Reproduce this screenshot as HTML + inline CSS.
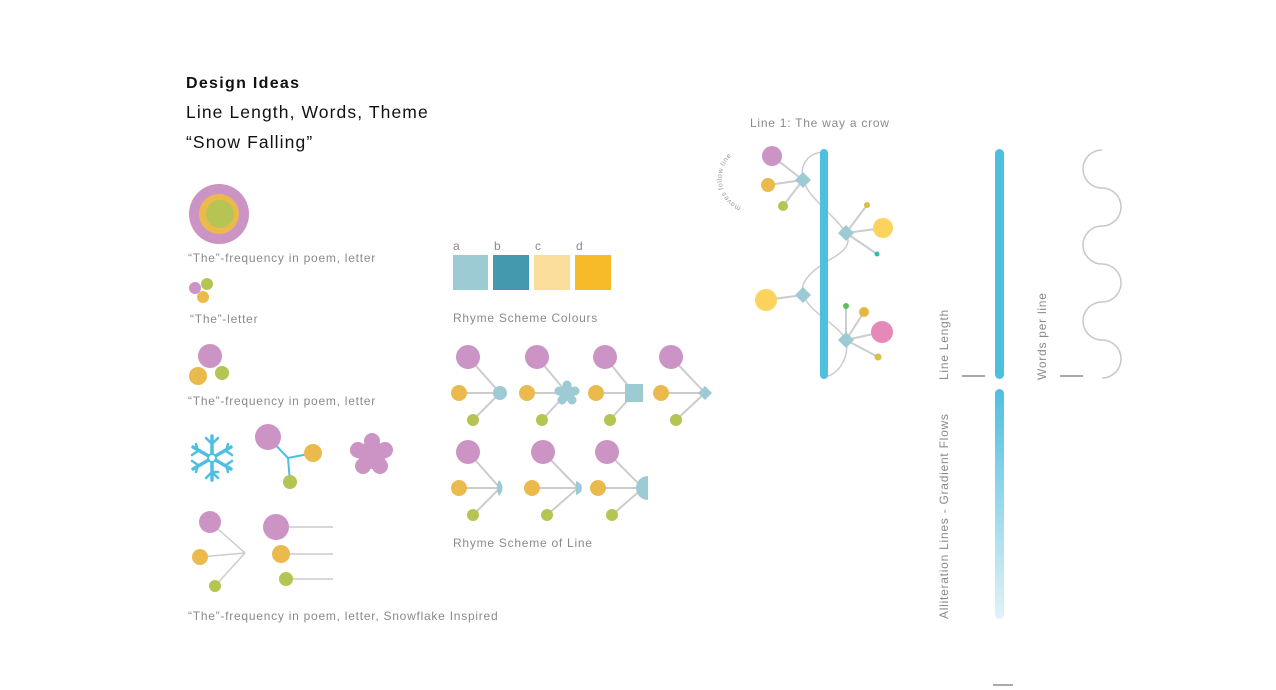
<!DOCTYPE html>
<html><head><meta charset="utf-8"><style>
html,body{margin:0;padding:0;background:#fff;}
svg{display:block;font-family:"Liberation Sans",sans-serif;}
.cap{font-size:12px;fill:#8a8a8a;letter-spacing:0.75px;}
</style></head><body>
<svg width="1276" height="690" viewBox="0 0 1276 690" xmlns="http://www.w3.org/2000/svg">
<defs>
<linearGradient id="g" x1="0" y1="0" x2="0" y2="1"><stop offset="0" stop-color="#4fbfdf"/><stop offset="1" stop-color="#e2f1f8"/></linearGradient>
</defs>
<text x="186" y="88" font-size="16" font-weight="bold" fill="#111" letter-spacing="1.3">Design Ideas</text>
<text x="186" y="118" font-size="17.5" fill="#111" letter-spacing="1.1">Line Length, Words, Theme</text>
<text x="186" y="148" font-size="17.5" fill="#111" letter-spacing="1.1">“Snow Falling”</text>

<circle cx="219" cy="214" r="30" fill="#cc94c4"/><circle cx="219" cy="214" r="20" fill="#eabb4c"/><circle cx="220" cy="214" r="14" fill="#b5c452"/>
<text class="cap" x="188" y="262">“The”-frequency in poem, letter</text>
<circle cx="207" cy="284" r="6" fill="#b5c452"/><circle cx="203" cy="297" r="6" fill="#eabb4c"/><circle cx="195" cy="288" r="6" fill="#cc94c4"/>
<text class="cap" x="190" y="323">“The”-letter</text>
<circle cx="210" cy="356" r="12" fill="#cc94c4"/><circle cx="198" cy="376" r="9" fill="#eabb4c"/><circle cx="222" cy="373" r="7" fill="#b5c452"/>
<text class="cap" x="188" y="405">“The”-frequency in poem, letter</text>

<g stroke="#4fbfdf" stroke-width="3.5" stroke-linecap="round" fill="none">
<line x1="212" y1="436" x2="212" y2="480"/><line x1="193" y1="447" x2="231" y2="469"/><line x1="193" y1="469" x2="231" y2="447"/>
<g stroke-width="2.5">
<path d="M206 438L212 444L218 438M206 478L212 472L218 472M206 478L212 472L218 478"/>
<path d="M192 455L198 451L196 444M232 455L226 451L228 444M192 461L198 465L196 472M232 461L226 465L228 472"/>
</g>
</g>
<circle cx="212" cy="458" r="4" fill="#fff" stroke="#4fbfdf" stroke-width="2"/>
<g stroke="#4fbfdf" stroke-width="2"><line x1="268" y1="437" x2="288" y2="458"/><line x1="288" y1="458" x2="313" y2="453"/><line x1="288" y1="458" x2="290" y2="482"/></g>
<circle cx="268" cy="437" r="13" fill="#cc94c4"/><circle cx="313" cy="453" r="9" fill="#eabb4c"/><circle cx="290" cy="482" r="7" fill="#b5c452"/>
<g fill="#cc94c4"><circle cx="372" cy="455" r="14"/><circle cx="372" cy="441" r="8"/><circle cx="385" cy="450" r="8"/><circle cx="380" cy="466" r="8"/><circle cx="363" cy="466" r="8"/><circle cx="358" cy="450" r="8"/></g>

<g stroke="#ccc" stroke-width="1.5"><line x1="210" y1="522" x2="245" y2="553"/><line x1="200" y1="557" x2="245" y2="553"/><line x1="215" y1="586" x2="245" y2="553"/>
<line x1="276" y1="527" x2="333" y2="527"/><line x1="281" y1="554" x2="333" y2="554"/><line x1="286" y1="579" x2="333" y2="579"/></g>
<circle cx="210" cy="522" r="11" fill="#cc94c4"/><circle cx="200" cy="557" r="8" fill="#eabb4c"/><circle cx="215" cy="586" r="6" fill="#b5c452"/>
<circle cx="276" cy="527" r="13" fill="#cc94c4"/><circle cx="281" cy="554" r="9" fill="#eabb4c"/><circle cx="286" cy="579" r="7" fill="#b5c452"/>
<text class="cap" x="188" y="620">“The”-frequency in poem, letter, Snowflake Inspired</text>

<g class="cap"><text x="453" y="250">a</text><text x="494" y="250">b</text><text x="535" y="250">c</text><text x="576" y="250">d</text></g>
<rect x="453" y="255" width="35" height="35" fill="#9ccbd4"/><rect x="493" y="255" width="36" height="35" fill="#4499ae"/>
<rect x="534" y="255" width="36" height="35" fill="#fadd9b"/><rect x="575" y="255" width="36" height="35" fill="#f7bb2a"/>
<text class="cap" x="453" y="322">Rhyme Scheme Colours</text>

<g stroke="#ccc" stroke-width="2">
<path d="M468 357L500 393M459 393H500M473 420L500 393"/>
<path d="M537 357L567 393M527 393H567M542 420L567 393"/>
<path d="M605 357L634 393M596 393H634M610 420L634 393"/>
<path d="M671 357L705 393M661 393H705M676 420L705 393"/>
<path d="M468 452L500 488M459 488H500M473 515L500 488"/>
<path d="M543 452L578 488M532 488H578M547 515L578 488"/>
<path d="M607 452L643 488M598 488H643M612 515L643 488"/>
</g>
<g fill="#cc94c4"><circle cx="468" cy="357" r="12"/><circle cx="537" cy="357" r="12"/><circle cx="605" cy="357" r="12"/><circle cx="671" cy="357" r="12"/><circle cx="468" cy="452" r="12"/><circle cx="543" cy="452" r="12"/><circle cx="607" cy="452" r="12"/></g>
<g fill="#eabb4c"><circle cx="459" cy="393" r="8"/><circle cx="527" cy="393" r="8"/><circle cx="596" cy="393" r="8"/><circle cx="661" cy="393" r="8"/><circle cx="459" cy="488" r="8"/><circle cx="532" cy="488" r="8"/><circle cx="598" cy="488" r="8"/></g>
<g fill="#b5c452"><circle cx="473" cy="420" r="6"/><circle cx="542" cy="420" r="6"/><circle cx="610" cy="420" r="6"/><circle cx="676" cy="420" r="6"/><circle cx="473" cy="515" r="6"/><circle cx="547" cy="515" r="6"/><circle cx="612" cy="515" r="6"/></g>
<g fill="#9ccbd4">
<circle cx="500" cy="393" r="7"/>
<circle cx="567" cy="393" r="8"/><circle cx="567" cy="385" r="4.5"/><circle cx="575" cy="391" r="4.5"/><circle cx="572" cy="400" r="4.5"/><circle cx="562" cy="400" r="4.5"/><circle cx="559" cy="391" r="4.5"/>
<rect x="625" y="384" width="18" height="18"/>
<path d="M705 386L712 393L705 400L698 393Z"/>
<path d="M499 480Q506 488 499 496Q495 488 499 480Z"/>
<path d="M576 481Q582 483 582 488Q582 493 576 495Z"/>
<path d="M648 476A12 12 0 0 0 636 488A12 12 0 0 0 648 500Z"/>
</g>
<text class="cap" x="453" y="547">Rhyme Scheme of Line</text>

<text class="cap" x="750" y="127" font-size="11">Line 1: The way a crow</text>
<path id="arc" d="M741 207A30 30 0 0 1 764 150" fill="none"/>
<text font-size="7" fill="#999" letter-spacing="0.5"><textPath href="#arc">moves follow line</textPath></text>
<path d="M824 152C805 153 800 168 803 180C810 200 832 212 846 233C855 250 832 257 820 266C806 276 800 286 803 295C812 315 836 322 846 340C850 360 836 376 824 377" fill="none" stroke="#ccc" stroke-width="1.5"/>
<rect x="820" y="149" width="8" height="230" rx="4" fill="#4fbfdf"/>
<g stroke="#ccc" stroke-width="2">
<path d="M772 156L803 180M768 185L803 180M783 206L803 180"/>
<path d="M846 233L867 205M846 233L883 228M846 233L877 254"/>
<path d="M766 300L803 295"/>
<path d="M846 340L846 306M846 340L864 312M846 340L882 332M846 340L878 357"/>
</g>
<circle cx="772" cy="156" r="10" fill="#cc94c4"/><circle cx="768" cy="185" r="7" fill="#eabb4c"/><circle cx="783" cy="206" r="5" fill="#b5c452"/>
<circle cx="867" cy="205" r="3" fill="#dcbf3c"/><circle cx="883" cy="228" r="10" fill="#fcd35c"/><circle cx="877" cy="254" r="2.5" fill="#2bbfaa"/>
<circle cx="766" cy="300" r="11" fill="#fcd35c"/>
<circle cx="846" cy="306" r="3" fill="#5cbf5c"/><circle cx="864" cy="312" r="5" fill="#e3b83c"/><circle cx="882" cy="332" r="11" fill="#e688b8"/><circle cx="878" cy="357" r="3.5" fill="#dcbf3c"/>
<g fill="#9ccbd4"><path d="M803 172L811 180L803 188L795 180Z"/><path d="M846 225L854 233L846 241L838 233Z"/><path d="M803 287L811 295L803 303L795 295Z"/><path d="M846 332L854 340L846 348L838 340Z"/></g>

<rect x="995" y="149" width="9" height="230" rx="4.5" fill="#4fbfdf"/>
<text class="cap" transform="translate(948 380) rotate(-90)">Line Length</text>
<line x1="962" y1="376" x2="985" y2="376" stroke="#555" stroke-width="1"/>
<text class="cap" transform="translate(1046 380) rotate(-90)">Words per line</text>
<line x1="1060" y1="376" x2="1083" y2="376" stroke="#555" stroke-width="1"/>
<path d="M1102 150A19 19 0 0 0 1102 188A19 19 0 0 1 1102 226A19 19 0 0 0 1102 264A19 19 0 0 1 1102 302A19 19 0 0 0 1102 340A19 19 0 0 1 1102 378" fill="none" stroke="#c8c8c8" stroke-width="1.5"/>
<rect x="995" y="389" width="9" height="230" rx="4.5" fill="url(#g)"/>
<text class="cap" transform="translate(948 619) rotate(-90)">Alliteration Lines - Gradient Flows</text>
<line x1="993" y1="685" x2="1013" y2="685" stroke="#555" stroke-width="1"/>
</svg>
</body></html>
